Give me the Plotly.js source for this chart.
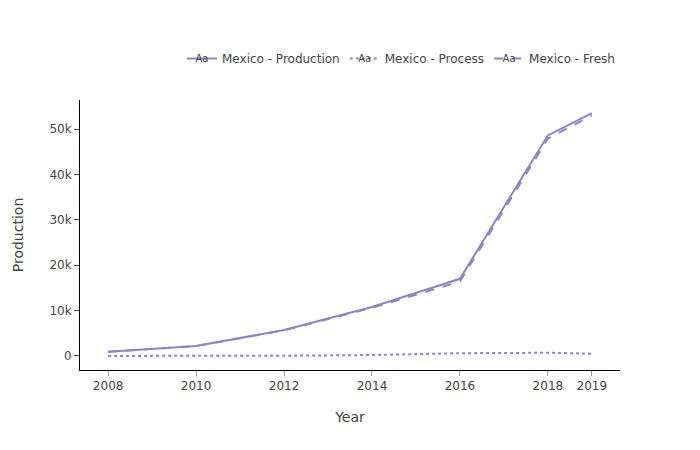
<!DOCTYPE html>
<html>
<head>
<meta charset="utf-8">
<script src="https://cdn.plot.ly/plotly-3.0.1.min.js"></script>
<style>html,body{margin:0;padding:0;background:#fff}#chart{width:700px;height:450px}</style>
</head>
<body>
<div id="chart"></div>
<script>
var years = [2008, 2010, 2012, 2014, 2016, 2018, 2019];
var production = [900, 2200, 5700, 10800, 17000, 48600, 53500];
var processVals = [0, 0, 50, 200, 600, 700, 500];
var fresh = [900, 2200, 5650, 10600, 16400, 47900, 53000];
var seriesNames = ['Mexico - Production', 'Mexico - Process', 'Mexico - Fresh'];
var lineColor = '#8c84c8';
var fontFamily = 'DejaVu Sans, Verdana, sans-serif';

var traces = [
  {x: years, y: production, name: seriesNames[0], mode: 'lines+text', line: {color: lineColor, width: 2, dash: 'solid'}},
  {x: years, y: processVals, name: seriesNames[1], mode: 'lines+text', line: {color: lineColor, width: 2, dash: 'dot'}},
  {x: years, y: fresh, name: seriesNames[2], mode: 'lines+text', line: {color: lineColor, width: 2, dash: 'dash'}}
];

var layout = {
  width: 700, height: 450,
  margin: {l: 80, r: 80, t: 100, b: 80},
  paper_bgcolor: '#fff', plot_bgcolor: '#fff',
  font: {family: fontFamily, color: '#444', size: 12},
  showlegend: true,
  legend: {orientation: 'h', x: 1, xanchor: 'right', y: 1.10, yanchor: 'bottom', font: {size: 12}},
  xaxis: {
    title: {text: 'Year', font: {size: 14}},
    tickvals: years, ticktext: years.map(String),
    range: [2007.36, 2019.64],
    showgrid: false, zeroline: false, showline: true, linecolor: '#000', linewidth: 1,
    ticks: 'outside', ticklen: 5, tickcolor: '#999'
  },
  yaxis: {
    title: {text: 'Production', font: {size: 14}, standoff: 22},
    range: [-3100, 56400],
    dtick: 10000,
    showgrid: false, zeroline: false, showline: true, linecolor: '#000', linewidth: 1,
    ticks: 'outside', ticklen: 5, tickcolor: '#444'
  }
};

function addLegendTextGlyphs() {
  var ns = 'http://www.w3.org/2000/svg';
  document.querySelectorAll('.legend g.legendpoints').forEach(function (g) {
    if (g.querySelector('g.pointtext')) return;
    var pg = document.createElementNS(ns, 'g');
    pg.setAttribute('class', 'pointtext');
    var t = document.createElementNS(ns, 'text');
    t.setAttribute('transform', 'translate(20,0)');
    t.setAttribute('text-anchor', 'middle');
    t.setAttribute('dy', '0.3em');
    t.setAttribute('style', 'font-family:' + fontFamily + ';font-size:10px;fill:#444;');
    t.textContent = 'Aa';
    pg.appendChild(t);
    g.appendChild(pg);
  });
}

Plotly.newPlot('chart', traces, layout, {displayModeBar: false}).then(function (gd) {
  addLegendTextGlyphs();
  gd.on('plotly_afterplot', addLegendTextGlyphs);
});
</script>
</body>
</html>
